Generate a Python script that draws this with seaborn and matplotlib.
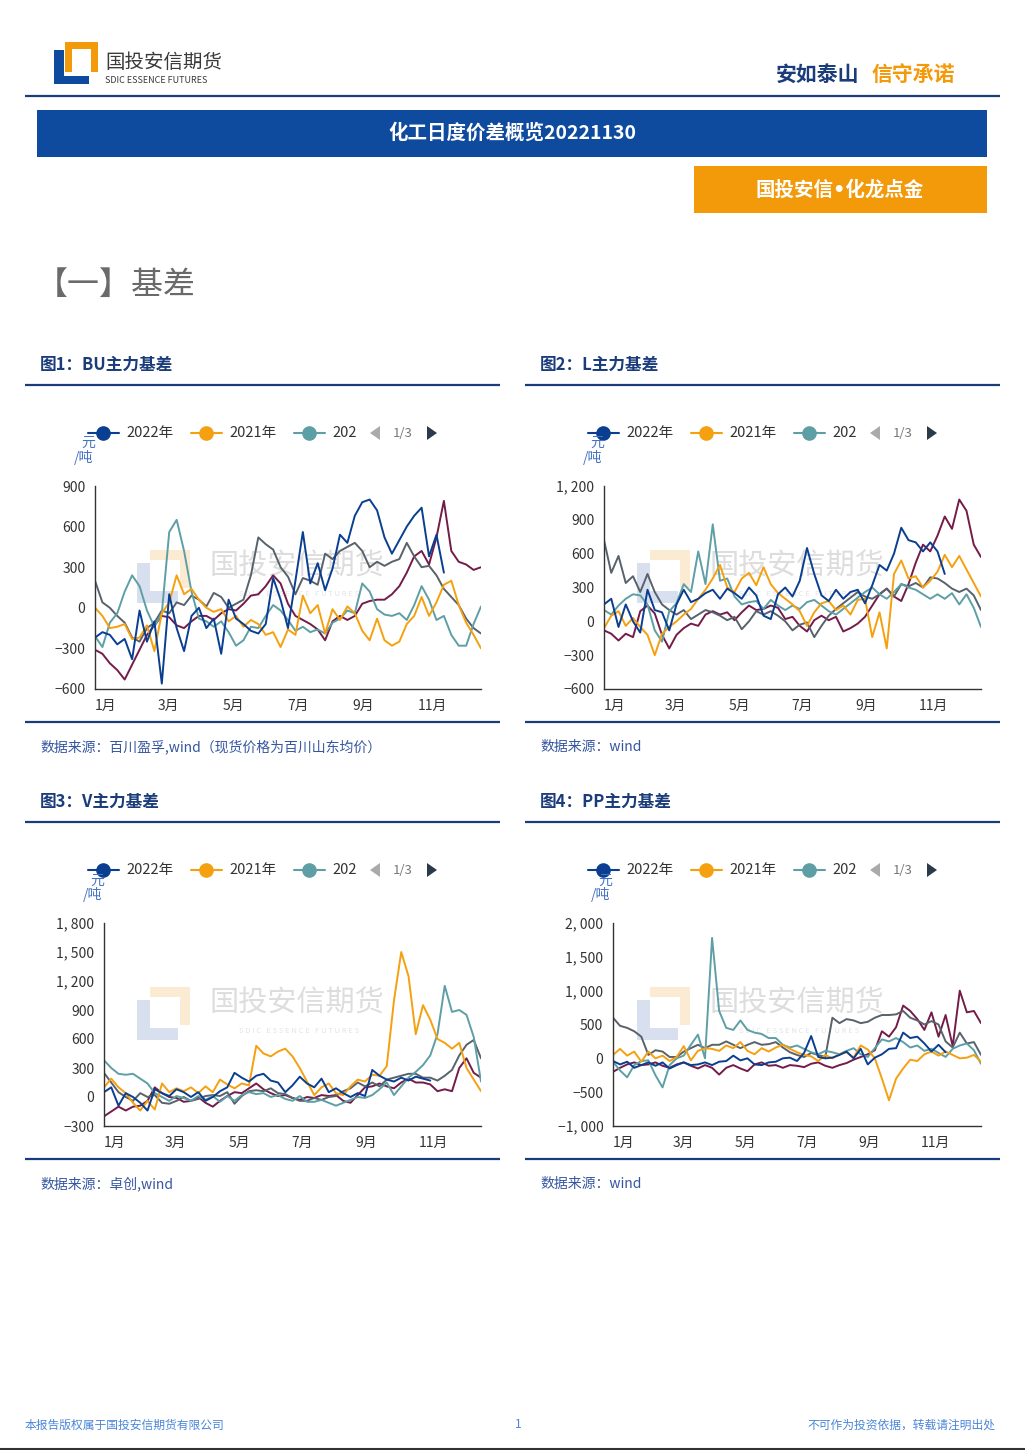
import matplotlib
matplotlib.use('Agg')
import numpy as np
import pandas as pd
import matplotlib.pyplot as plt
import seaborn as sns
from matplotlib.patches import Rectangle, Polygon
from matplotlib.ticker import FuncFormatter
from matplotlib.transforms import ScaledTranslation

sns.set_style('white')
plt.rcParams['font.family'] = ['Noto Sans CJK SC', 'DejaVu Sans']
plt.rcParams['axes.unicode_minus'] = True

# weekly basis values (yuan/ton)
years = ['2018年', '2019年', '2020年', '2021年', '2022年']
colors = ['#741C49', '#58626C', '#5E9FA6', '#F5A00F', '#0A3E91']

bu_2022 = [-220, -180, -200, -270, -230, -380, -20, -250, -100, -560, 100, -150, -320, -60, 0, -150,
           -80, -340, 60, -80, -120, -170, -190, -120, 220, 60, -150, 200, 560, 180, 330, 130, 290, 540,
           480, 680, 780, 800, 720, 520, 400, 500, 600, 680, 740, 380, 540, 260]
bu_2021 = [0, -60, -150, -140, -120, -230, -220, -130, -320, -40, 40, 240, 100, 140, 60, 0, -30, -10,
           -100, -60, -140, -90, -120, -200, -180, -290, -160, -200, 90, -40, 20, -190, -10, -90, 10, -40,
           -170, -240, -80, -240, -280, -250, -120, -60, 80, -60, 40, 170, 200, 20, -110, -200, -300]
bu_2020 = [-210, -290, -110, -40, 120, 240, 160, -20, -140, -40, 560, 650, 420, 120, -80, -100, -140,
           -100, -180, -280, -240, -140, -150, -60, 20, -20, -90, -170, -140, -180, -160, -190, -110, -80,
           -20, -40, 180, 120, -10, -50, -60, -40, -90, 20, 160, 60, -90, -60, -200, -280, -280, -120, 10]
bu_2019 = [200, 40, 0, -60, -110, -220, -250, -150, -110, -20, -40, 40, 20, 90, 60, 10, 110, 80, 0, 30,
           60, 240, 520, 470, 430, 300, 230, 100, 220, 200, 170, 400, 360, 420, 450, 480, 420, 300, 340,
           310, 340, 360, 480, 380, 300, 310, 240, 140, 80, 20, -80, -150, -190]
bu_2018 = [-310, -340, -410, -460, -530, -420, -310, -200, -130, -60, -70, -130, -150, -100, -60, -60,
           -90, -40, -10, -20, 30, 90, 100, 160, 240, 180, 30, -60, -90, -120, -160, -240, -100, -60, -90,
           -60, 30, 50, 60, 60, 100, 160, 260, 380, 420, 320, 520, 790, 420, 340, 320, 280, 300]

l_2022 = [150, 200, -50, 150, 0, -100, 280, 100, 80, -80, 150, 280, 170, 200, 250, 280, 200, 290, 250,
          200, 300, 230, 50, 20, 240, 300, 220, 360, 650, 420, 230, 180, 280, 200, 260, 280, 160, 320,
          500, 450, 600, 830, 720, 700, 620, 700, 620, 420]
l_2021 = [-60, 50, 90, -40, 30, -50, -120, -300, -110, -50, 0, 60, 110, 200, 280, 380, 500, 300, 260,
          380, 430, 320, 480, 330, 250, 200, 150, 90, -40, 80, 160, 180, 100, 140, 60, 190, 200, -140, 80,
          -240, 420, 540, 380, 400, 300, 360, 440, 590, 480, 580, 460, 340, 220]
l_2020 = [100, 60, 140, 200, 240, 230, 150, -80, -180, 90, 160, 330, 260, 620, 330, 860, 360, 380, 220,
          150, 170, 180, 110, 190, 140, 100, 140, 110, 170, 190, 140, 90, 60, 110, 160, 210, 260, 300, 240,
          200, 260, 330, 300, 280, 240, 200, 240, 200, 250, 150, 240, 120, -50]
l_2019 = [720, 430, 580, 340, 400, 260, 420, 260, 150, 100, 60, 100, 20, 60, 100, 80, 50, 10, 40, -70,
          0, 90, 60, 90, 50, 0, -80, -30, -10, -140, -40, 50, 110, 160, 210, 260, 220, 200, 240, 290, 220,
          330, 310, 340, 300, 390, 380, 340, 290, 260, 290, 230, 100]
l_2018 = [-80, -110, -170, -110, -140, 90, 140, 70, -120, -240, -120, -60, -20, -40, 60, 90, 60, 80, 10,
          80, 140, 100, 110, 140, 120, 20, 40, -40, -90, 10, 50, 10, 40, -90, -60, -20, 40, 140, 240, 290,
          220, 180, 330, 520, 680, 620, 760, 930, 820, 1080, 980, 680, 570]

v_2022 = [50, 100, -90, 40, 0, -60, -140, 80, 40, 10, 80, 50, 0, 50, -40, 0, 60, 100, 250, 200, 160,
          220, 240, 170, 150, 50, 120, 210, 140, 100, 190, 50, 90, 40, 0, 40, 10, 280, 220, 180, 160, 200,
          170, 210, 190, 170]
v_2021 = [100, 190, 100, 40, -60, -140, -40, -130, 140, 50, 90, 60, 100, 40, 110, 50, 180, 130, 90, 140,
          120, 530, 450, 420, 470, 500, 420, 300, 160, 20, 100, 140, 40, 20, 110, 180, 160, 230, 220, 320,
          1000, 1500, 1250, 650, 950, 800, 600, 560, 500, 560, 300, 180, 60]
v_2020 = [380, 300, 240, 230, 240, 190, 140, 40, 0, -40, 10, -10, -40, 10, -30, 10, -50, 10, -40, 20,
          50, 30, 40, 0, 20, -20, -40, 10, -50, -50, -30, -60, -90, -60, -30, 0, -10, 20, 80, 150, 20, 110,
          200, 260, 330, 430, 650, 1150, 880, 900, 850, 620, 160]
v_2019 = [250, 150, 50, 0, -40, 40, 0, 20, -60, -70, -40, 0, -40, -20, 10, 20, 10, 50, -70, 10, 60, 70,
          60, 90, 40, 30, -10, -40, -40, -10, -30, 0, 10, 60, 90, 150, 110, 150, 110, 180, 200, 220, 240,
          240, 200, 200, 170, 220, 280, 430, 540, 590, 400]
v_2018 = [-200, -150, -100, -140, -100, -90, -40, 100, 40, 0, -10, -50, -40, 0, -60, -100, -40, 10, 50,
          40, 90, 140, 80, 40, 10, 20, -10, -30, 0, -10, 20, 10, 20, -40, -60, 20, 100, 110, 140, 110, 90,
          150, 190, 150, 150, 130, 60, 80, 60, 300, 400, 250, 200]

pp_2022 = [-40, -90, -50, -140, -100, -60, -110, -60, -150, -100, -60, -100, -90, -60, -100, -50, -40,
           40, -30, 0, -90, -100, -60, -50, 0, 10, -40, 80, 330, 20, 0, 10, 50, 100, 0, 140, -90, 10, 60,
           140, 150, 380, 300, 320, 220, 100, 200, 90]
pp_2021 = [50, 140, 40, 100, -50, 100, 0, 40, -40, 20, 180, -30, 110, 150, 140, 110, 190, 150, 240, 110,
           60, 150, 100, 160, 200, 140, 90, 50, 30, -40, 50, 0, 60, 90, 10, 190, 130, 0, -300, -620, -300,
           -150, -20, -40, 60, 100, 40, 100, 50, 0, 10, 50, -50]
pp_2020 = [-50, -180, -280, -100, -40, -30, -250, -430, -100, 0, 40, 200, 350, 0, 1780, 700, 450, 420,
           560, 420, 380, 360, 300, 300, 200, 160, 190, 140, 90, 60, 110, 90, 60, 110, 150, 60, 20, 150,
           280, 250, 300, 240, 160, 190, 110, 140, 80, 20, 140, 190, 220, 120, -80]
pp_2019 = [600, 480, 450, 400, 320, 50, 120, 100, 20, 20, 100, 150, 200, 150, 200, 200, 250, 200, 150,
           200, 240, 200, 210, 240, 160, 90, 50, 20, 80, 50, 20, 600, 520, 580, 560, 520, 540, 600, 640,
           640, 650, 700, 600, 560, 500, 550, 500, 250, 160, 380, 220, 240, 50]
pp_2018 = [-200, -140, -90, -60, -100, -90, -60, -110, -140, -90, -60, -110, -150, -100, -140, -240,
           -140, -100, -150, -190, -90, -60, -110, -100, -140, -100, -110, -130, -80, -60, -110, -140,
           -100, -70, -20, 20, 60, 120, 400, 320, 460, 780, 700, 580, 420, 680, 320, 640, 180, 1000, 680,
           700, 520]

NAVY = '#0E4A9E'
DARK = '#1B3C7A'
ORANGE = '#F39A0B'


def make_frame(series):
    parts = []
    for year, vals in zip(years, series):
        dates = pd.date_range('2022-01-01', periods=len(vals), freq='7D')
        parts.append(pd.DataFrame({'date': dates, 'value': vals, 'year': year}))
    return pd.concat(parts, ignore_index=True)


def fmt_num(v, pos):
    return f'{int(round(v)):,}'.replace(',', ', ').replace('-', '\u2212')


fig = plt.figure(figsize=(10.25, 14.5), dpi=100)
bg = fig.add_axes([0, 0, 1, 1], zorder=0)
bg.set_xlim(0, 1025)
bg.set_ylim(1450, 0)
bg.axis('off')


def rect(x0, y0, x1, y1, color, z=1):
    bg.add_patch(Rectangle((x0, y0), x1 - x0, y1 - y0, color=color, lw=0, zorder=z))


def hline(x0, x1, y, color=DARK, lw=1.6):
    bg.plot([x0, x1], [y, y], color=color, lw=lw, solid_capstyle='butt')


# ---- page header
rect(65, 42, 98, 72, '#F39A0B')
rect(72, 49, 91, 72, 'white', 2)
rect(54, 50, 64, 84, '#0E4A9E', 3)
rect(54, 76, 89, 84, '#0E4A9E', 3)
bg.text(105, 62, '国投安信期货', fontsize=14, color='#3A3A3A', va='center', ha='left')
bg.text(105, 80, 'SDIC ESSENCE FUTURES', fontsize=6.5, color='#3A3A3A', va='center', ha='left')
bg.text(776, 74, '安如泰山', fontsize=15, color=DARK, fontweight='bold', va='center', ha='left')
bg.text(872, 74, '信守承诺', fontsize=15, color=ORANGE, fontweight='bold', va='center', ha='left')
hline(25, 1000, 96, DARK, 1.6)

rect(37, 110, 987, 157, NAVY)
bg.text(512, 133, '化工日度价差概览20221130', fontsize=14, color='white', fontweight='bold',
        ha='center', va='center', zorder=3)
rect(694, 166, 987, 213, ORANGE)
bg.text(840, 190, '国投安信•化龙点金', fontsize=14, color='white', fontweight='bold',
        ha='center', va='center', zorder=3, family=['DejaVu Sans', 'Noto Sans CJK SC'])

bg.text(36, 285, '【一】基差', fontsize=23, color='#6A6A6A', ha='left', va='center')

# ---- panels
panels = [
    dict(ox=0, oy=0, rect=(95, 486, 481, 689), ylim=(-600, 900), step=300,
         series=[bu_2018, bu_2019, bu_2020, bu_2021, bu_2022], title='图1：BU主力基差',
         source='数据来源：百川盈孚,wind（现货价格为百川山东均价）', unit=(88, 443, 84, 457)),
    dict(ox=500, oy=0, rect=(604, 486, 981, 689), ylim=(-600, 1200), step=300,
         series=[l_2018, l_2019, l_2020, l_2021, l_2022], title='图2：L主力基差',
         source='数据来源：wind', unit=(597, 443, 593, 457)),
    dict(ox=0, oy=437, rect=(104, 923, 481, 1126), ylim=(-300, 1800), step=300,
         series=[v_2018, v_2019, v_2020, v_2021, v_2022], title='图3：V主力基差',
         source='数据来源：卓创,wind', unit=(97, 881, 93, 894)),
    dict(ox=500, oy=437, rect=(613, 923, 981, 1126), ylim=(-1000, 2000), step=500,
         series=[pp_2018, pp_2019, pp_2020, pp_2021, pp_2022], title='图4：PP主力基差',
         source='数据来源：wind', unit=(605, 881, 601, 894)),
]

tick_dates = pd.to_datetime(['2022-01-01', '2022-03-01', '2022-05-01', '2022-07-01',
                             '2022-09-01', '2022-11-01', '2022-12-31'])
tick_labels = ['1月', '3月', '5月', '7月', '9月', '11月', '']

for p in panels:
    ox, oy = p['ox'], p['oy']
    # title + rules
    bg.text(40 + ox, 365 + oy, p['title'], fontsize=12, color=DARK, fontweight='bold',
            ha='left', va='center')
    hline(25 + ox, 500 + ox, 385 + oy)
    hline(25 + ox, 500 + ox, 722 + oy)
    bg.text(40 + ox, 747 + oy, p['source'], fontsize=10, color='#3556A0', style='italic',
            ha='left', va='center')

    # legend (first page of 3)
    ly = 433 + oy
    for x0, c, lab in [(88, colors[4], '2022年'), (191, colors[3], '2021年'), (294, colors[2], '202')]:
        bg.plot([x0 + ox, x0 + 31 + ox], [ly, ly], color=c, lw=1.5)
        bg.plot(x0 + 15 + ox, ly, 'o', color=c, ms=9.5)
        bg.text(x0 + 38 + ox, ly, lab, fontsize=10.5, color='#333333', ha='left', va='center')
    bg.add_patch(Polygon([(370 + ox, ly), (380 + ox, ly - 7), (380 + ox, ly + 7)], color='#AAAAAA', lw=0))
    bg.text(403 + ox, ly, '1/3', fontsize=9.5, color='#777777', ha='center', va='center')
    bg.add_patch(Polygon([(427 + ox, ly - 7), (427 + ox, ly + 7), (437 + ox, ly)], color='#2B3A4A', lw=0))

    ux, uy, ux2, uy2 = p['unit']
    bg.text(ux, uy, '元', fontsize=10, color='#4472C4', ha='center', va='center')
    bg.text(ux2, uy2, '/吨', fontsize=10, color='#4472C4', ha='center', va='center')

    # watermark
    rect(150 + ox, 550 + oy, 190 + ox, 588 + oy, '#FCEBD3')
    rect(150 + ox, 560 + oy, 180 + ox, 588 + oy, 'white', 2)
    rect(137 + ox, 563 + oy, 150 + ox, 603 + oy, '#D8DFEE', 3)
    rect(137 + ox, 591 + oy, 178 + ox, 603 + oy, '#D8DFEE', 3)
    bg.text(297 + ox, 567 + oy, '国投安信期货', fontsize=21, color='#DDDDDD', ha='center', va='center')
    bg.text(299 + ox, 594 + oy, 'S D I C   E S S E N C E   F U T U R E S', fontsize=5.5,
            color='#E4E4E4', ha='center', va='center')

    # chart
    l, t, r, b = p['rect']
    ax = fig.add_axes([l / 1025, 1 - b / 1450, (r - l) / 1025, (b - t) / 1450], zorder=2)
    ax.patch.set_alpha(0)
    df = make_frame(p['series'])
    sns.lineplot(data=df, x='date', y='value', hue='year', hue_order=years,
                 palette=dict(zip(years, colors)), ax=ax, legend=False, lw=1.4,
                 estimator=None, sort=False)
    ax.set_xlim(pd.Timestamp('2022-01-01'), pd.Timestamp('2022-12-31'))
    lo, hi = p['ylim']
    ax.set_ylim(lo, hi)
    ax.set_yticks(np.arange(lo, hi + 1, p['step']))
    ax.yaxis.set_major_formatter(FuncFormatter(fmt_num))
    ax.set_xticks(tick_dates)
    ax.set_xticklabels(tick_labels, ha='left')
    off = ScaledTranslation(0.04, 0, fig.dpi_scale_trans)
    for lab in ax.get_xticklabels():
        lab.set_transform(lab.get_transform() + off)
    ax.set_xlabel('')
    ax.set_ylabel('')
    for s in ['top', 'right']:
        ax.spines[s].set_visible(False)
    for s in ['left', 'bottom']:
        ax.spines[s].set_color('#333333')
        ax.spines[s].set_linewidth(1)
    ax.tick_params(axis='both', direction='out', length=4, width=1, color='#333333',
                   labelsize=10, labelcolor='#333333', pad=3)

# ---- footer
bg.text(25, 1425, '本报告版权属于国投安信期货有限公司', fontsize=8.5, color='#4A86D8', ha='left', va='center')
bg.text(518, 1425, '1', fontsize=8.5, color='#4A86D8', ha='center', va='center')
bg.text(995, 1425, '不可作为投资依据，转载请注明出处', fontsize=8.5, color='#4A86D8', ha='right', va='center')
hline(0, 1025, 1449, '#333333', 1.5)

fig.savefig('out.png', dpi=100)
